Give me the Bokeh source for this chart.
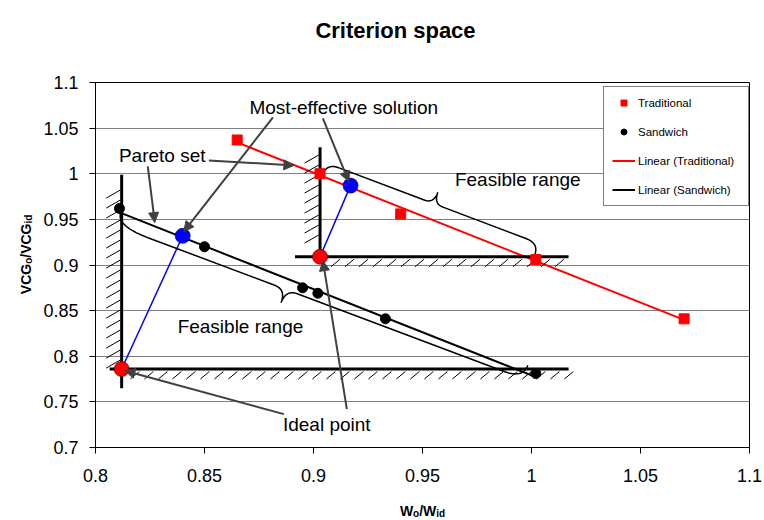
import numpy as np
from bokeh.plotting import figure
from bokeh.layouts import column, row
from bokeh.models import (Range1d, FixedTicker, Label, Arrow, NormalHead,
                          Legend, LegendItem)
from bokeh.embed import file_html
from bokeh.resources import INLINE

# ---------------- data ----------------
trad_x = [0.865, 0.903, 0.940, 1.002, 1.070]
trad_y = [1.037, 1.000, 0.956, 0.906, 0.841]
sand_x = [0.811, 0.850, 0.895, 0.902, 0.933, 1.002]
sand_y = [0.962, 0.920, 0.875, 0.869, 0.841, 0.781]
ideal_x = [0.812, 0.903]
ideal_y = [0.786, 0.909]
best_x = [0.840, 0.917]
best_y = [0.932, 0.987]

x_ticks = [0.8, 0.85, 0.9, 0.95, 1.0, 1.05, 1.1]
x_tick_labels = ["0.8", "0.85", "0.9", "0.95", "1", "1.05", "1.1"]
y_ticks = [0.7, 0.75, 0.8, 0.85, 0.9, 0.95, 1.0, 1.05, 1.1]
y_tick_labels = ["0.7", "0.75", "0.8", "0.85", "0.9", "0.95", "1", "1.05", "1.1"]

title_text = "Criterion space"
series_names = ["Traditional", "Sandwich", "Linear (Traditional)", "Linear (Sandwich)"]

# constraint (ideal point) lines
cons_v_top = [0.999, 1.029]
cons_v_bot = [0.765, 0.902]
cons_h_left = [0.8065, 0.8915]
cons_h_right = [1.017, 1.017]
hatch_v_lo = [0.787, 0.924]
hatch_v_hi = [0.977, 1.018]
hatch_h_lo = [0.816, 0.908]
hatch_h_hi = [1.016, 1.014]

# annotation texts
ann_text = ["Most-effective solution", "Pareto set", "Feasible range", "Feasible range", "Ideal point"]
ann_x = [0.9139, 0.8306, 0.9937, 0.8665, 0.9061]
ann_y = [1.0729, 1.0201, 0.9937, 0.8327, 0.7256]

# arrows
arr_x0 = [0.8240, 0.8520, 0.8814, 0.9043, 0.8864, 0.9153]
arr_y0 = [1.0080, 1.0146, 1.0619, 1.0607, 0.7366, 0.7421]
arr_x1 = [0.8272, 0.8910, 0.8405, 0.9162, 0.8135, 0.9043]
arr_y1 = [0.9465, 1.0091, 0.9366, 0.9915, 0.7841, 0.9047]

# braces: start, end, tip fraction, depth, radii, side
braces = [
    dict(a=(0.8116, 0.9575), b=(0.9983, 0.7900), f=0.418, d=28, r0=35, rt=12, r1=20, side=-1),
    dict(a=(0.9042, 0.9992), b=(1.0015, 0.9113), f=0.503, d=24, r0=13, rt=10, r1=14, side=1),
]

# ---------------- layout geometry ----------------
TOTAL_W, TOTAL_H = 764, 520
TOP_H = 48          # title strip
BOT_H = 30          # x-label strip
LEFT_W = 36         # y-label strip
MAIN_W = TOTAL_W - LEFT_W
MAIN_H = TOTAL_H - TOP_H - BOT_H
BL, BT = 59, 34
FRAME_W, FRAME_H = 654, 365
BR = MAIN_W - BL - FRAME_W
BB = MAIN_H - BT - FRAME_H
XR = (0.8, 1.1)
YR = (0.7, 1.1)
SX = FRAME_W / (XR[1] - XR[0])
SY = FRAME_H / (YR[1] - YR[0])

FONT = "Liberation Sans"

p = figure(width=MAIN_W, height=MAIN_H, x_range=Range1d(*XR), y_range=Range1d(*YR),
           output_backend="svg", toolbar_location=None,
           min_border_left=BL, min_border_right=BR, min_border_top=BT, min_border_bottom=BB)
p.background_fill_color = "white"
p.border_fill_color = "white"
p.outline_line_color = "black"
p.outline_line_width = 1

p.xaxis.ticker = FixedTicker(ticks=x_ticks)
p.yaxis.ticker = FixedTicker(ticks=y_ticks)
p.xaxis.major_label_overrides = dict(zip(x_ticks, x_tick_labels))
p.yaxis.major_label_overrides = dict(zip(y_ticks, y_tick_labels))
for ax in (p.xaxis[0], p.yaxis[0]):
    ax.major_tick_out = 6
    ax.major_tick_in = 0
    ax.minor_tick_out = 0
    ax.minor_tick_in = 0
    ax.axis_line_color = "black"
    ax.major_tick_line_color = "black"
    ax.major_label_text_font = FONT
    ax.major_label_text_font_size = "18px"
    ax.major_label_text_color = "black"
p.yaxis.major_label_standoff = 11
p.xaxis.major_label_standoff = 15
p.xgrid.visible = False
p.ygrid.grid_line_color = "#808080"
p.ygrid.grid_line_width = 1

# trend lines (least squares, over data range)
mt, ct = np.polyfit(trad_x, trad_y, 1)
ms, cs = np.polyfit(sand_x, sand_y, 1)
tx = np.array([min(trad_x), max(trad_x)])
sx_ = np.array([min(sand_x), max(sand_x)])
r_lt = p.line(tx, mt * tx + ct, line_color="red", line_width=2)
r_ls = p.line(sx_, ms * sx_ + cs, line_color="black", line_width=2)

# blue connectors
p.segment(x0=ideal_x, y0=ideal_y, x1=best_x, y1=best_y, line_color="blue", line_width=1.5)

# constraint lines + hatching
p.segment(x0=ideal_x, y0=cons_v_bot, x1=ideal_x, y1=cons_v_top, line_color="black", line_width=3)
p.segment(x0=cons_h_left, y0=ideal_y, x1=cons_h_right, y1=ideal_y, line_color="black", line_width=3)
hx0, hy0, hx1, hy1 = [], [], [], []
for i in range(2):
    for yy in np.arange(hatch_v_lo[i], hatch_v_hi[i] + 1e-9, 10 / SY):
        hx0.append(ideal_x[i] - 15.5 / SX); hy0.append(yy)
        hx1.append(ideal_x[i] - 1.5 / SX); hy1.append(yy + 8 / SY)
    for xx in np.arange(hatch_h_lo[i], hatch_h_hi[i] + 1e-9, 14 / SX):
        hx0.append(xx); hy0.append(ideal_y[i] - 10 / SY)
        hx1.append(xx + 9 / SX); hy1.append(ideal_y[i] - 2.5 / SY)
p.segment(x0=hx0, y0=hy0, x1=hx1, y1=hy1, line_color="black", line_width=1)


def brace_pts(a, b, f, d, r0, rt, r1, side):
    A = np.array([a[0] * SX, a[1] * SY])
    B = np.array([b[0] * SX, b[1] * SY])
    v = B - A
    L = np.hypot(*v)
    u = v / L
    n = np.array([-u[1], u[0]]) * side
    h = d / 2.0
    T0 = A + u * f * L
    t = np.linspace(0, 1, 24)[:, None]

    def quad(p0, c, p1):
        return (1 - t) ** 2 * p0 + 2 * (1 - t) * t * c + t ** 2 * p1

    segs = [
        quad(A, A + n * h, A + u * r0 + n * h),
        quad(T0 - u * rt + n * h, T0 + n * h, T0 + n * d),
        quad(T0 + n * d, T0 + n * h, T0 + u * rt + n * h),
        quad(B - u * r1 + n * h, B + n * h, B),
    ]
    pts = np.vstack(segs)
    return pts[:, 0] / SX, pts[:, 1] / SY


for br in braces:
    bx, by = brace_pts(**br)
    p.line(bx, by, line_color="black", line_width=1.5)

# data points
r_t = p.scatter(trad_x, trad_y, marker="square", size=10, fill_color="red", line_color="red")
r_s = p.scatter(sand_x, sand_y, marker="circle", size=10, fill_color="black", line_color="black")
p.scatter(ideal_x, ideal_y, marker="circle", size=15, fill_color="red", line_color="#600000", line_width=0.7)
p.scatter(best_x, best_y, marker="circle", size=15, fill_color="blue", line_color="#000060", line_width=0.7)

# arrows
for i in range(len(arr_x0)):
    p.add_layout(Arrow(end=NormalHead(size=10, fill_color="#404040", line_color="#404040"),
                       x_start=arr_x0[i], y_start=arr_y0[i], x_end=arr_x1[i], y_end=arr_y1[i],
                       line_color="#404040", line_width=2))

# annotation texts
for t_, x_, y_ in zip(ann_text, ann_x, ann_y):
    p.add_layout(Label(x=x_, y=y_, text=t_, text_font=FONT, text_font_size="19px",
                       text_color="black", text_align="center", text_baseline="middle"))

# legend
legend = Legend(items=[LegendItem(label=series_names[0], renderers=[r_t]),
                       LegendItem(label=series_names[1], renderers=[r_s]),
                       LegendItem(label=series_names[2], renderers=[r_lt]),
                       LegendItem(label=series_names[3], renderers=[r_ls])],
                location=(508, 241), margin=0, padding=8, spacing=14,
                glyph_width=23, glyph_height=15, label_height=15, label_width=102,
                label_standoff=3, label_text_font=FONT, label_text_font_size="11.5px",
                label_text_color="black",
                border_line_color="black", border_line_width=1,
                background_fill_color="white", background_fill_alpha=1.0)
p.add_layout(legend)


def strip(w, h):
    f = figure(width=w, height=h, x_range=Range1d(0, w), y_range=Range1d(0, h),
               output_backend="svg", toolbar_location=None, min_border=0,
               x_axis_location=None, y_axis_location=None)
    f.xgrid.visible = False
    f.ygrid.visible = False
    f.outline_line_color = None
    f.background_fill_color = "white"
    f.border_fill_color = "white"
    return f


frame_cx = LEFT_W + BL + FRAME_W / 2.0

# title strip
top = strip(TOTAL_W, TOP_H)
top.add_layout(Label(x=395, y=18, text=title_text, text_font=FONT, text_color="black",
                     text_font_size="22px", text_font_style="bold", text_align="center",
                     text_baseline="alphabetic"))

# x-axis label strip: W_o/W_id
bot = strip(TOTAL_W, BOT_H)
parts = [("W", -22.6, 0, "14px"), ("o", -9.4, -3, "10px"), ("/W", -3.3, 0, "14px"), ("id", 13.8, -3, "10px")]
for txt, xo, yo, fs in parts:
    bot.add_layout(Label(x=frame_cx, y=10, x_offset=xo, y_offset=yo, text=txt, text_font=FONT,
                         text_color="black", text_font_size=fs, text_font_style="bold",
                         text_align="left", text_baseline="alphabetic"))

# y-axis label strip: VCG_o/VCG_id (rotated)
left = strip(LEFT_W, MAIN_H)
yl_start = MAIN_H - (BT + FRAME_H / 2.0 + 39.8)  # bottom end of text
parts = [("VCG", 0, 0, "14px"), ("o", 3, 30.3, "10px"), ("/VCG", 0, 36.4, "14px"), ("id", 3, 70.6, "10px")]
for txt, xo, yo, fs in parts:
    left.add_layout(Label(x=25, y=yl_start, x_offset=xo, y_offset=yo, text=txt, text_font=FONT,
                          text_color="black", text_font_size=fs, text_font_style="bold",
                          text_align="left", text_baseline="alphabetic", angle=np.pi / 2))

layout = column(top, row(left, p, spacing=0), bot, spacing=0)
open("out.html", "w").write(file_html(layout, INLINE))
